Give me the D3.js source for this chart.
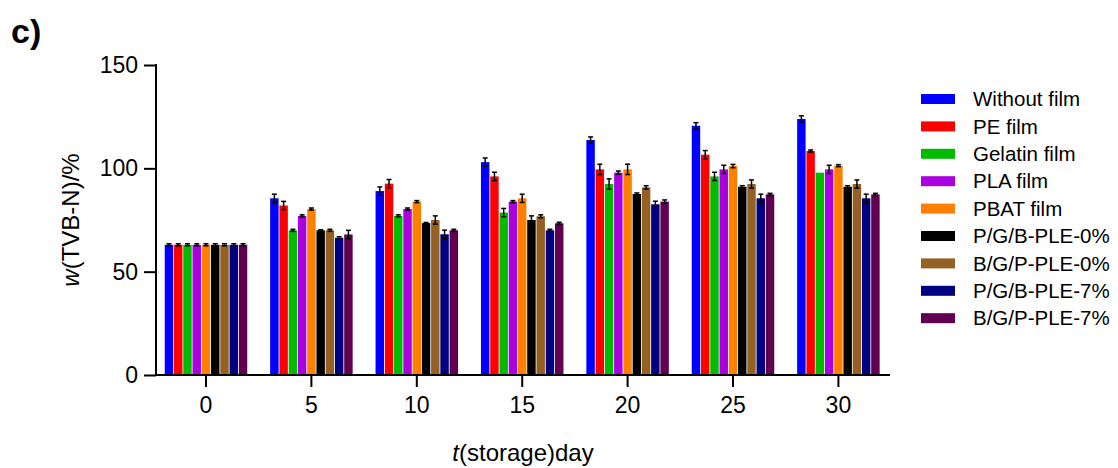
<html>
<head>
	<meta charset="UTF-8">
	<title>TVB-N storage</title>
	<script src="https://cdn.jsdelivr.net/npm/d3@7"></script>
	<style>
		body {
			padding: 0;
			margin: 0;
			background: #fff;
		}
		text {
			font-family: "Liberation Sans", Arial, sans-serif;
		}
	</style>
</head>
<body>
	<script>
		// storage days on the x axis
		var days = ["0", "5", "10", "15", "20", "25", "30"];
		var series = ["Without film", "PE film", "Gelatin film", "PLA film", "PBAT film",
			"P/G/B-PLE-0%", "B/G/P-PLE-0%", "P/G/B-PLE-7%", "B/G/P-PLE-7%"];
		var colors = ["#0000ff", "#ff0000", "#00bb00", "#aa00e0", "#ff8000",
			"#000000", "#946024", "#000080", "#600050"];
		var yTicks = [0, 50, 100, 150];

		// mean values, one row per series (days 0..30)
		var withoutFilm = [63, 85.5, 89, 103, 113.7, 120.6, 123.9];
		var peFilm      = [63, 82, 92.6, 96.1, 99.5, 106.6, 108.4];
		var gelatinFilm = [63, 70, 77, 78.6, 92.4, 96.1, 97.9];
		var plaFilm     = [63, 77, 80.3, 83.9, 97.9, 99.5, 99.5];
		var pbatFilm    = [63, 80.3, 83.9, 85.5, 99.5, 101.1, 101.3];
		var pgb0        = [63, 70, 73.5, 75, 87.6, 91.1, 91.1];
		var bgp0        = [63, 70, 75, 76.8, 90.8, 92.4, 92.4];
		var pgb7        = [63, 66.4, 68.1, 70, 82.6, 85.5, 85.5];
		var bgp7        = [63, 68, 70, 73.4, 83.9, 87.4, 87.4];
		var means = [withoutFilm, peFilm, gelatinFilm, plaFilm, pbatFilm, pgb0, bgp0, pgb7, bgp7];

		// error bar half-lengths
		var withoutErr = [0.5, 2, 2, 2, 1.5, 1.5, 1.5];
		var peErr      = [0.5, 2, 2, 2, 2.5, 2, 0.5];
		var gelatinErr = [0.5, 0.5, 0.5, 2, 2.5, 2, 0];
		var plaErr     = [0.5, 0.5, 0.5, 0.5, 0.8, 2, 2];
		var pbatErr    = [0.5, 0.5, 0.5, 2, 2.5, 0.8, 0.5];
		var pgb0Err    = [0.5, 0.3, 0.3, 2, 0.5, 0.5, 0.5];
		var bgp0Err    = [0.5, 0.5, 2, 0.7, 0.8, 2, 2];
		var pgb7Err    = [0.5, 0.5, 2, 0.5, 1.5, 2, 2];
		var bgp7Err    = [0.5, 2, 0.5, 0.5, 0.8, 0.5, 0.5];
		var errs = [withoutErr, peErr, gelatinErr, plaErr, pbatErr, pgb0Err, bgp0Err, pgb7Err, bgp7Err];

		var w = 1118,
			h = 468;

		var svg = d3.select("body").append("svg")
			.attr("width", w)
			.attr("height", h);

		var x = d3.scaleBand().domain(days).range([153.3, 891.1]).padding(0);
		var groupW = 83.3;
		var xs = d3.scaleBand().domain(series).range([0, groupW]).padding(0);
		var y = d3.scaleLinear().domain([0, 150]).range([375, 65]);

		// flatten to one record per bar
		var bars = [];
		series.forEach(function(s, si) {
			days.forEach(function(d, di) {
				bars.push({ s: s, si: si, day: d, v: means[si][di], e: errs[si][di] });
			});
		});

		function barX(b) {
			return x(b.day) + (x.bandwidth() - groupW) / 2 + xs(b.s);
		}

		svg.append("g").selectAll("rect")
			.data(bars)
			.enter().append("rect")
			.attr("x", function(b) { return barX(b) + 0.4; })
			.attr("y", function(b) { return y(b.v); })
			.attr("width", xs.bandwidth() - 0.8)
			.attr("height", function(b) { return y(0) - y(b.v); })
			.attr("fill", function(b) { return colors[b.si]; });

		// error bars
		var eg = svg.append("g").attr("stroke", "#000").attr("stroke-width", 1.5);
		bars.forEach(function(b) {
			var cx = barX(b) + xs.bandwidth() / 2;
			var y1 = y(b.v + b.e), y2 = y(b.v - b.e);
			if (b.e <= 0) return;
			eg.append("line").attr("x1", cx).attr("x2", cx).attr("y1", y1).attr("y2", y2);
			eg.append("line").attr("x1", cx - 2.5).attr("x2", cx + 2.5).attr("y1", y1).attr("y2", y1);
			eg.append("line").attr("x1", cx - 2.5).attr("x2", cx + 2.5).attr("y1", y2).attr("y2", y2);
		});

		// y axis
		var yAxis = svg.append("g")
			.attr("transform", "translate(156,0)")
			.call(d3.axisLeft(y).tickValues(yTicks).tickSize(12).tickPadding(6));
		// x axis
		var xAxis = svg.append("g")
			.attr("transform", "translate(0,375)")
			.call(d3.axisBottom(x).tickSize(12).tickPadding(10));

		[yAxis, xAxis].forEach(function(a) {
			a.select(".domain").remove();
			a.selectAll("line").attr("stroke", "#000").attr("stroke-width", 2);
			a.selectAll("text").attr("fill", "#000").style("font-size", "23px");
		});
		svg.append("line").attr("x1", 156).attr("x2", 156).attr("y1", 64).attr("y2", 376)
			.attr("stroke", "#000").attr("stroke-width", 2);
		svg.append("line").attr("x1", 155).attr("x2", 890).attr("y1", 375).attr("y2", 375)
			.attr("stroke", "#000").attr("stroke-width", 2);

		// axis titles
		var xt = svg.append("text")
			.attr("x", 523).attr("y", 461)
			.attr("text-anchor", "middle")
			.style("font-size", "24px");
		xt.append("tspan").style("font-style", "italic").text("t");
		xt.append("tspan").text("(storage)day");

		var yt = svg.append("text")
			.attr("transform", "translate(79,220) rotate(-90)")
			.attr("text-anchor", "middle")
			.style("font-size", "24px");
		yt.append("tspan").style("font-style", "italic").text("w");
		yt.append("tspan").text("(TVB-N)/%");

		// panel letter
		svg.append("text")
			.attr("x", 11).attr("y", 43)
			.style("font-size", "34px").style("font-weight", "bold")
			.text("c)");

		// legend
		var lg = svg.append("g").selectAll("g")
			.data(series)
			.enter().append("g")
			.attr("transform", function(d, i) { return "translate(921," + (94 + i * 27.4) + ")"; });
		lg.append("rect")
			.attr("width", 34).attr("height", 10)
			.attr("fill", function(d, i) { return colors[i]; });
		lg.append("text")
			.attr("x", 52).attr("y", 5)
			.attr("dy", "0.35em")
			.style("font-size", "20.5px")
			.text(function(d) { return d; });
	</script>
</body>
</html>
